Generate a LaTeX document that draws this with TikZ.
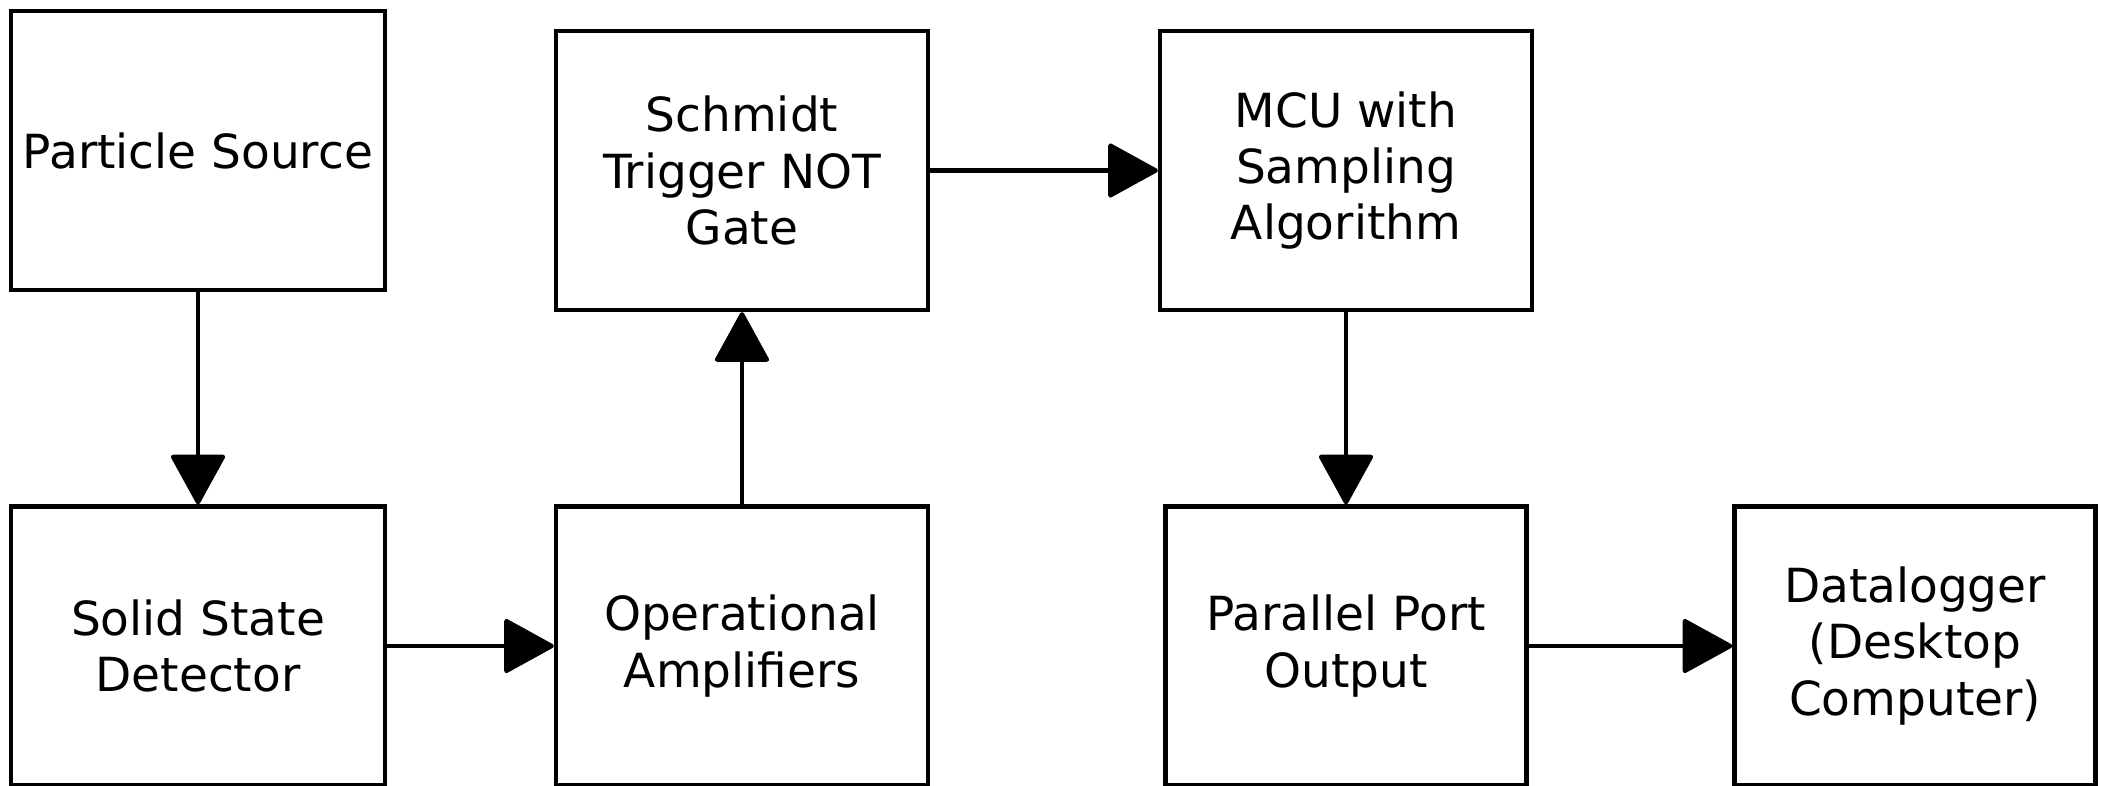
\documentclass[tikz,border=0pt]{standalone}
\usepackage{fontspec}
\setmainfont{DejaVu Sans}
\usetikzlibrary{arrows.meta}
\tikzset{
  blk/.style={draw=black, line width=2.15pt, fill=white, inner sep=0pt, align=center,
    font=\fontsize{23.5}{28.2}\selectfont},
  wide/.style={blk, minimum width=186pt, minimum height=139.5pt},
  narrow/.style={blk, minimum width=180.5pt, minimum height=139.5pt},
  flow/.style={line width=2.15pt, -{Triangle[length=26pt, width=28pt, round]}}
}
\begin{document}
\begin{tikzpicture}[x=0.5pt, y=-0.5pt]
  \useasboundingbox[fill=white] (0,0) rectangle (2101,786);
  % upper row
  \node[wide, minimum width=187pt] (ps)  at (198,150.5) {Particle Source};
  \node[wide] (sch) at (742,170.5) {Schmidt\\Trigger NOT\\Gate};
  \node[wide] (mcu) at (1346,170.5) {MCU with\\Sampling\\Algorithm};
  % lower row
  \node[wide, minimum width=187pt] (ssd) at (198,646) {Solid State\\Detector};
  \node[wide] (op)  at (742,646) {Operational\\Amplifiers};
  \node[narrow] (pp) at (1346,646) {Parallel Port\\Output};
  \node[narrow] (dl) at (1915,646) {Datalogger\\(Desktop\\Computer)};
  % signal chain
  \draw[flow] (ps.south) -- (ssd.north);
  \draw[flow] (ssd.east) -- (op.west);
  \draw[flow] (op.north) -- (sch.south);
  \draw[flow] (sch.east) -- (mcu.west);
  \draw[flow] (mcu.south) -- (pp.north);
  \draw[flow] (pp.east) -- (dl.west);
\end{tikzpicture}
\end{document}
